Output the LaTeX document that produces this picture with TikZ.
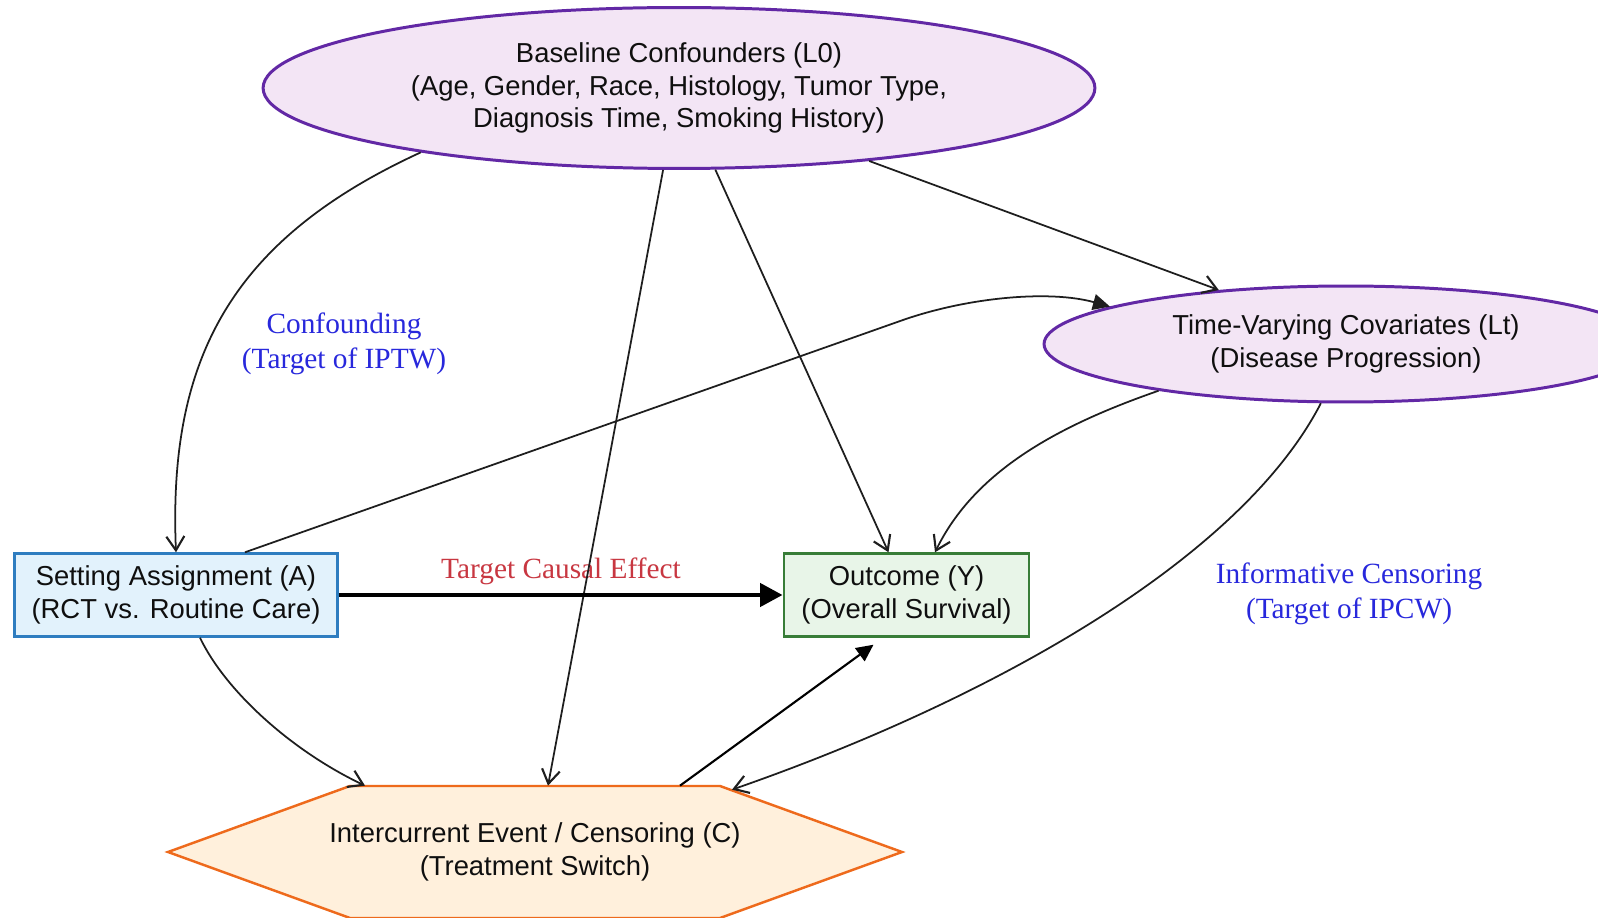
\documentclass[tikz,border=0pt]{standalone}
\usepackage{fontspec}
\usetikzlibrary{arrows.meta,calc,shapes.geometric}
\newfontfamily\sansf{Liberation Sans}
\newfontfamily\seriff{Liberation Serif}

\definecolor{ellfill}{RGB}{243,229,245}
\definecolor{elldraw}{RGB}{98,40,165}
\definecolor{afill}{RGB}{226,242,252}
\definecolor{adraw}{RGB}{46,125,192}
\definecolor{yfill}{RGB}{232,245,232}
\definecolor{ydraw}{RGB}{56,125,56}
\definecolor{cfill}{RGB}{255,240,220}
\definecolor{cdraw}{RGB}{238,106,28}
\definecolor{edgecol}{RGB}{30,30,30}
\definecolor{txtcol}{RGB}{15,15,15}
\definecolor{bluelbl}{RGB}{40,40,220}
\definecolor{redlbl}{RGB}{200,55,65}

\begin{document}
\begin{tikzpicture}[x=0.02cm,y=-0.02cm,
  nodetext/.style={font=\sansf\fontsize{15.6}{18.6}\selectfont, text=txtcol, align=center, inner sep=0pt},
  ellnode/.style={nodetext, ellipse, draw=elldraw, fill=ellfill, line width=1.7pt},
  boxnode/.style={nodetext, rectangle, line width=1.4pt},
  lbl/.style={font=\seriff\fontsize{16.7}{20.2}\selectfont, align=center, inner sep=0pt},
  edge/.style={draw=edgecol, line width=1.0pt},
  vtip/.style={-{Straight Barb[length=0.28cm,width=0.36cm,line width=1.2pt]}},
  ftip/.style={-{Triangle[length=0.34cm,width=0.32cm]}}
]
\useasboundingbox (0,0) rectangle (1598,918);
\clip (0,0) rectangle (1598,918);
\fill[white] (0,0) rectangle (1598,918);

% intercurrent event hexagon (outline drawn as a polygon)
\filldraw[fill=cfill, draw=cdraw, line width=1.4pt]
  (168,852) -- (350,786) -- (720,786) -- (902,852) -- (720,918) -- (350,918) -- cycle;

% nodes
\node[ellnode, minimum width=16.64cm, minimum height=3.22cm] (L0) at (679,88)
  {Baseline Confounders (L0)\\(Age, Gender, Race, Histology, Tumor Type,\\Diagnosis Time, Smoking History)};
\node[ellnode, minimum width=12.08cm, minimum height=2.32cm] (Lt) at (1346,344)
  {Time-Varying Covariates (Lt)\\(Disease Progression)};
\node[boxnode, draw=adraw, fill=afill, minimum width=6.46cm, minimum height=1.66cm] (A) at (176,595)
  {Setting Assignment (A)\\(RCT vs. Routine Care)};
\node[boxnode, draw=ydraw, fill=yfill, minimum width=4.91cm, minimum height=1.66cm] (Y) at (906.5,595)
  {Outcome (Y)\\(Overall Survival)};
\node[nodetext, minimum width=14.68cm, minimum height=2.64cm] (C) at (535,852)
  {Intercurrent Event / Censoring (C)\\(Treatment Switch)};

% labels
\node[lbl, text=bluelbl] (conf) at (344,344) {Confounding\\(Target of IPTW)};
\node[lbl, text=redlbl] (tce) at (561,571) {Target Causal Effect};
\node[lbl, text=bluelbl] (infc) at (1349,594) {Informative Censoring\\(Target of IPCW)};

% connectors
\coordinate (abend) at (903,320);
\draw[edge, vtip] (L0.194.5) .. controls (230,240) and (168,360) .. (A.north);
\draw[edge, vtip] (L0.259) -- ($(C.north)+(13,0)$);
\draw[edge, vtip] (L0.294.3) -- ($(Y.north)+(-18,0)$);
\draw[edge, vtip] (L0.339) -- (Lt.157);
\draw[edge, ftip] ($(A.north)+(69,0)$) -- (abend) .. controls (969,297) and (1050,290) .. (Lt.171);
\draw[edge, vtip] (Lt.194.6) .. controls (1060,425) and (975,470) .. ($(Y.north)+(28.5,0)$);
\draw[edge, vtip] (Lt.247.9) .. controls (1240,560) and (990,700) .. ($(C.north)+(197,4)$);
\draw[edge, vtip] ($(A.south)+(24,0)$) .. controls (225,690) and (290,750) .. ($(C.north)+(-170,0)$);
\draw[draw=black, line width=2.5pt, -{Triangle[length=0.45cm,width=0.46cm]}] (A.east) -- (Y.west);
\draw[draw=black, line width=1.2pt, -{Triangle[length=0.34cm,width=0.32cm]}] ($(C.north)+(145,0)$) -- ($(Y.south)+(-33,7)$);
\end{tikzpicture}
\end{document}
